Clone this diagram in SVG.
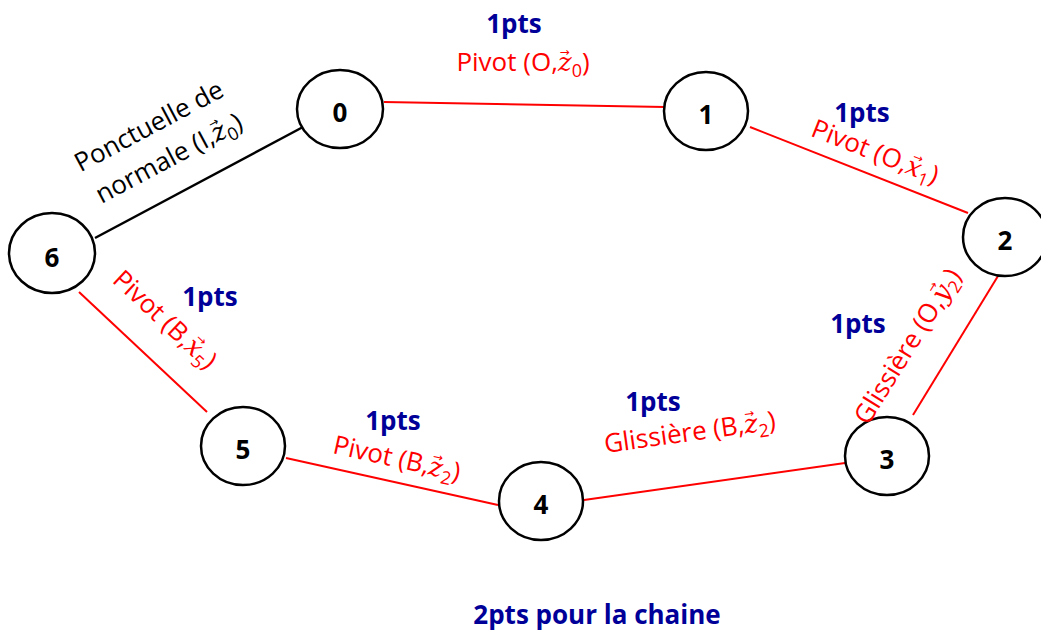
<svg xmlns="http://www.w3.org/2000/svg" width="1041" height="632" viewBox="0 0 1041 632">
<style>
.node{fill:#fff;stroke:#000;stroke-width:2.5}
.nl{font-family:"Open Sans","Liberation Sans",sans-serif;font-weight:bold;font-size:26px;fill:#000;text-anchor:middle}
.pts{font-family:"Open Sans","Liberation Sans",sans-serif;font-weight:bold;font-size:26px;fill:#000099;text-anchor:middle}
.lab{font-family:"Open Sans","Liberation Sans",sans-serif;font-size:26px;fill:#ff0000;text-anchor:middle}
.blk{fill:#000}
.v{font-family:"DejaVu Serif",serif;font-style:italic}
.ar{font-family:"DejaVu Sans",sans-serif;font-size:12px}
.sb{font-size:18px}
.red{stroke:#ff0000;stroke-width:2;fill:none}
.black{stroke:#000;stroke-width:2.5;fill:none}
</style>
<rect width="1041" height="632" fill="#fff"/>
<g id="connectors">
<line class="red" x1="384" y1="102" x2="665" y2="107"/>
<line class="red" x1="750" y1="127" x2="968" y2="213"/>
<line class="red" x1="998" y1="276" x2="913" y2="415"/>
<line class="red" x1="845" y1="463" x2="584" y2="500"/>
<line class="red" x1="498" y1="505" x2="286" y2="458"/>
<line class="red" x1="207" y1="412" x2="79" y2="292"/>
<line class="black" x1="95" y1="238" x2="303" y2="127"/>
</g>
<g id="node0"><ellipse class="node" cx="340" cy="109" rx="43" ry="39"/><text class="nl" x="340" y="122">0</text></g>
<g id="node1"><ellipse class="node" cx="706" cy="111" rx="42" ry="39"/><text class="nl" x="706" y="124">1</text></g>
<g id="node2"><ellipse class="node" cx="1005" cy="237" rx="42" ry="39"/><text class="nl" x="1005" y="250">2</text></g>
<g id="node3"><ellipse class="node" cx="887" cy="456" rx="42" ry="39"/><text class="nl" x="887" y="469">3</text></g>
<g id="node4"><ellipse class="node" cx="541" cy="501" rx="42" ry="39"/><text class="nl" x="541" y="514">4</text></g>
<g id="node5"><ellipse class="node" cx="243" cy="446" rx="42" ry="39"/><text class="nl" x="243" y="459">5</text></g>
<g id="node6"><ellipse class="node" cx="52" cy="253" rx="43" ry="40"/><text class="nl" x="52" y="267">6</text></g>
<g id="labels">
<text class="pts" x="514" y="33">1pts</text>
<text class="lab" x="523" y="71">Pivot (O,<tspan class="v">z</tspan><tspan class="ar" dx="-12" dy="-15">→</tspan><tspan class="sb" dx="2" dy="21">0</tspan><tspan dy="-6">)</tspan></text>
<text class="pts" x="862" y="122">1pts</text>
<text class="lab" transform="translate(872,160) rotate(21.5)">Pivot (O,<tspan class="v">x</tspan><tspan class="ar" dx="-12" dy="-15">→</tspan><tspan class="sb" dx="2" dy="21">1</tspan><tspan dy="-6">)</tspan></text>
<text class="lab blk" transform="translate(153,134) rotate(-28)">Ponctuelle de</text>
<text class="lab blk" transform="translate(173,166) rotate(-28)">normale (I,<tspan class="v">z</tspan><tspan class="ar" dx="-12" dy="-15">→</tspan><tspan class="sb" dx="2" dy="21">0</tspan><tspan dy="-6">)</tspan></text>
<text class="pts" x="210" y="306">1pts</text>
<text class="lab" transform="translate(159,326) rotate(43)">Pivot (B,<tspan class="v">x</tspan><tspan class="ar" dx="-12" dy="-15">→</tspan><tspan class="sb" dx="2" dy="21">5</tspan><tspan dy="-6">)</tspan></text>
<text class="pts" x="393" y="430">1pts</text>
<text class="lab" transform="translate(395,467) rotate(12.5)">Pivot (B,<tspan class="v">z</tspan><tspan class="ar" dx="-12" dy="-15">→</tspan><tspan class="sb" dx="2" dy="21">2</tspan><tspan dy="-6">)</tspan></text>
<text class="pts" x="653" y="411">1pts</text>
<text class="lab" transform="translate(691,441) rotate(-8)">Glissière (B,<tspan class="v">z</tspan><tspan class="ar" dx="-12" dy="-15">→</tspan><tspan class="sb" dx="2" dy="21">2</tspan><tspan dy="-6">)</tspan></text>
<text class="pts" x="858" y="333">1pts</text>
<text class="lab" transform="translate(915,351) rotate(-58)">Glissière (O,<tspan class="v">y</tspan><tspan class="ar" dx="-12" dy="-15">→</tspan><tspan class="sb" dx="2" dy="21">2</tspan><tspan dy="-6">)</tspan></text>
<text class="pts" x="597" y="624" font-size="29.5">2pts pour la chaine</text>
</g>
</svg>
